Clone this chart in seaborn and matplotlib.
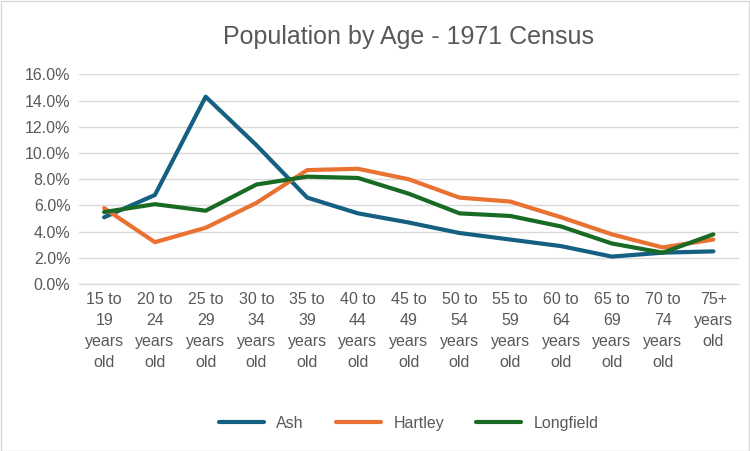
import matplotlib
matplotlib.use("Agg")
import matplotlib.pyplot as plt
import pandas as pd
import seaborn as sns

age_groups = ["15 to\n19\nyears\nold", "20 to\n24\nyears\nold", "25 to\n29\nyears\nold",
              "30 to\n34\nyears\nold", "35 to\n39\nyears\nold", "40 to\n44\nyears\nold",
              "45 to\n49\nyears\nold", "50 to\n54\nyears\nold", "55 to\n59\nyears\nold",
              "60 to\n64\nyears\nold", "65 to\n69\nyears\nold", "70 to\n74\nyears\nold",
              "75+\nyears\nold"]
ash = [5.1, 6.8, 14.3, 10.6, 6.6, 5.4, 4.7, 3.9, 3.4, 2.9, 2.1, 2.4, 2.5]
hartley = [5.8, 3.2, 4.3, 6.2, 8.7, 8.8, 8.0, 6.6, 6.3, 5.1, 3.8, 2.8, 3.4]
longfield = [5.5, 6.1, 5.6, 7.6, 8.2, 8.1, 6.9, 5.4, 5.2, 4.4, 3.1, 2.4, 3.8]

series = {"Ash": ash, "Hartley": hartley, "Longfield": longfield}
colors = {"Ash": "#156082", "Hartley": "#E97132", "Longfield": "#196B24"}

rows = []
for name, vals in series.items():
    for i, v in enumerate(vals):
        rows.append({"idx": i, "value": v, "series": name})
df = pd.DataFrame(rows)

sns.set_style("white")
plt.rcParams["font.family"] = ["Liberation Sans", "DejaVu Sans"]

fig, ax = plt.subplots(figsize=(7.5, 4.51), dpi=100)
fig.subplots_adjust(left=0.105, right=0.985, top=0.835, bottom=0.37)
sns.lineplot(data=df, x="idx", y="value", hue="series", palette=colors,
             linewidth=3, ax=ax)

ax.set_ylim(0, 16)
ax.set_yticks(range(0, 17, 2))
ax.set_yticklabels([f"{t:.1f}%" for t in range(0, 17, 2)], color="#595959", fontsize=11.5)
ax.set_xlim(-0.5, len(age_groups) - 0.5)
ax.set_xticks(range(len(age_groups)))
ax.set_xticklabels(age_groups, color="#595959", fontsize=11.5, linespacing=1.5)
ax.tick_params(axis="both", length=0, pad=6)
ax.grid(axis="y", color="#D9D9D9", linewidth=1)
for s in ["top", "right", "left"]:
    ax.spines[s].set_visible(False)
ax.spines["bottom"].set_color("#D9D9D9")
ax.set_xlabel("")
ax.set_ylabel("")
ax.set_title("Population by Age - 1971 Census", fontsize=18, color="#595959", pad=22)

ax.legend(loc="upper center", bbox_to_anchor=(0.5, -0.56), ncol=3, frameon=False,
          fontsize=11.5, labelcolor="#595959", handlelength=2.8, columnspacing=2)

fig.patches.append(plt.Rectangle((0.001, 0.001), 0.997, 0.997, transform=fig.transFigure,
                                 fill=False, edgecolor="#D9D9D9", linewidth=1))
fig.savefig("out.png", dpi=100)
